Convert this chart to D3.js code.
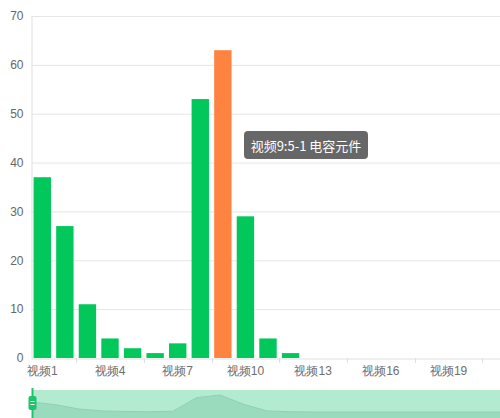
<!DOCTYPE html>
<html>
<head>
    <meta charset="utf-8">
    <title>视频 bar chart</title>
    <script src="https://cdn.jsdelivr.net/npm/d3@7/dist/d3.min.js"></script>
    <style>
        html, body { margin: 0; padding: 0; background: #fff; overflow: hidden; }
        svg { display: block; font-family: "Noto Sans CJK SC", "Noto Sans", sans-serif; }
    </style>
</head>
<body>
    <div id="chart"></div>
    <script type="text/javascript">
        var categories = ["视频1", "视频2", "视频3", "视频4", "视频5", "视频6", "视频7",
                          "视频8", "视频9", "视频10", "视频11", "视频12", "视频13", "视频14",
                          "视频15", "视频16", "视频17", "视频18", "视频19", "视频20", "视频21"];
        var values = [37, 27, 11, 4, 2, 1, 3, 53, 63, 29, 4, 1, 0, 0, 0, 0, 0, 0, 0, 0, 0];
        var highlight = "视频9";
        var yTicks = [0, 10, 20, 30, 40, 50, 60, 70];
        var tooltipText = "视频9:5-1 电容元件";

        var width = 500, height = 418;
        var plotLeft = 31, plotRight = 505, plotTop = 16, plotBottom = 358;

        var svg = d3.select("#chart").append("svg")
            .attr("width", width)
            .attr("height", height);

        var x = d3.scaleBand()
            .domain(categories)
            .range([plotLeft, plotRight]);

        var y = d3.scaleLinear()
            .domain([0, 70])
            .range([plotBottom, plotTop]);

        // grid
        svg.append("g").selectAll("line")
            .data(yTicks.filter(function(d) { return d > 0; }))
            .enter().append("line")
                .attr("x1", plotLeft).attr("x2", plotRight)
                .attr("y1", function(d) { return y(d) + 0.5; })
                .attr("y2", function(d) { return y(d) + 0.5; })
                .attr("stroke", "#e6e6e6");

        // y axis
        var yAxis = svg.append("g")
            .attr("transform", "translate(" + (plotLeft + 0.5) + ",0)")
            .call(d3.axisLeft(y).tickValues(yTicks).tickSize(0).tickPadding(8));
        yAxis.select(".domain").attr("stroke", "#e0e0e0");
        yAxis.selectAll("text").attr("fill", "#666").style("font-size", "12px");

        // bars
        var barW = x.bandwidth() * 0.77;
        svg.append("g").selectAll("rect")
            .data(values)
            .enter().append("rect")
                .attr("x", function(d, i) { return x(categories[i]) + (x.bandwidth() - barW) / 2; })
                .attr("width", barW)
                .attr("y", function(d) { return y(d); })
                .attr("height", function(d) { return y(0) - y(d); })
                .attr("fill", function(d, i) { return categories[i] === highlight ? "#fe8340" : "#02c75a"; });

        // x axis
        var xAxis = svg.append("g")
            .attr("transform", "translate(0," + (plotBottom + 0.5) + ")")
            .call(d3.axisBottom(x)
                .tickValues(categories.filter(function(d, i) { return i % 3 === 0; }))
                .tickSize(0).tickPadding(8));
        xAxis.select(".domain").attr("stroke", "#e0e0e0");
        xAxis.selectAll("text").attr("fill", "#6e6e6e").style("font-size", "12px");

        // ticks on category boundaries
        svg.append("g").selectAll("line")
            .data(categories.filter(function(d, i) { return i % 3 === 2; }))
            .enter().append("line")
                .attr("x1", function(d) { return Math.round(x(d)) + 0.5; })
                .attr("x2", function(d) { return Math.round(x(d)) + 0.5; })
                .attr("y1", plotBottom).attr("y2", plotBottom + 5)
                .attr("stroke", "#e0e0e0");

        // dataZoom slider
        var sTop = 390, sBottom = 420, sLeft = 32, sRight = 502;
        svg.append("rect")
            .attr("x", sLeft).attr("y", sTop)
            .attr("width", sRight - sLeft).attr("height", sBottom - sTop)
            .attr("fill", "#b3ebd1");

        var sx = d3.scalePoint().domain(categories).range([sLeft, sRight]);
        var sy = d3.scaleLinear().domain([0, 63]).range([412, 395]);
        var area = d3.area()
            .x(function(d, i) { return sx(categories[i]); })
            .y0(sBottom)
            .y1(function(d) { return sy(d); });
        var line = d3.line()
            .x(function(d, i) { return sx(categories[i]); })
            .y(function(d) { return sy(d); });
        svg.append("path").datum(values)
            .attr("d", area)
            .attr("fill", "#9bdbbd");
        svg.append("path").datum(values)
            .attr("d", line)
            .attr("fill", "none")
            .attr("stroke", "#8ed2b2");

        // handle
        svg.append("line")
            .attr("x1", sLeft + 0.5).attr("x2", sLeft + 0.5)
            .attr("y1", sTop - 2).attr("y2", sBottom)
            .attr("stroke", "#1dc46c").attr("stroke-width", 2);
        svg.append("rect")
            .attr("x", sLeft - 3.5).attr("y", 396)
            .attr("width", 8).attr("height", 14)
            .attr("rx", 2)
            .attr("fill", "#1dc46c");
        svg.append("line")
            .attr("x1", sLeft - 1.5).attr("x2", sLeft + 2.5)
            .attr("y1", 401.5).attr("y2", 401.5)
            .attr("stroke", "#fff");
        svg.append("line")
            .attr("x1", sLeft - 1.5).attr("x2", sLeft + 2.5)
            .attr("y1", 404.5).attr("y2", 404.5)
            .attr("stroke", "#fff");

        // tooltip
        var tip = svg.append("g").attr("transform", "translate(244,131)");
        tip.append("rect")
            .attr("width", 124).attr("height", 28)
            .attr("rx", 4)
            .attr("fill", "rgba(90,90,90,0.92)");
        tip.append("text")
            .attr("x", 62).attr("y", 14)
            .attr("text-anchor", "middle")
            .attr("dominant-baseline", "central")
            .attr("fill", "#fff")
            .style("font-size", "13px")
            .text(tooltipText);
    </script>
</body>
</html>
